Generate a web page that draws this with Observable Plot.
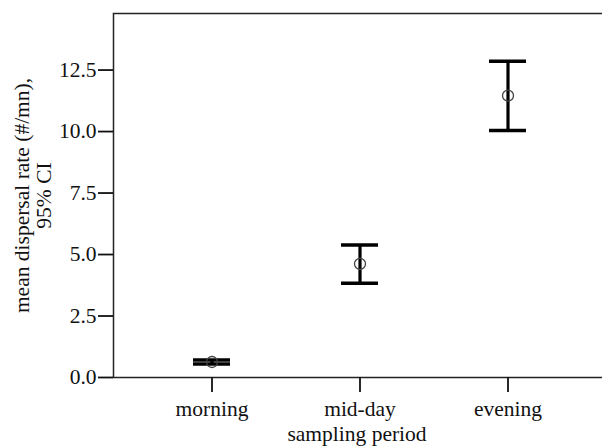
<!DOCTYPE html>
<html><head><meta charset="utf-8">
<script src="https://cdn.jsdelivr.net/npm/d3@7"></script>
<script src="https://cdn.jsdelivr.net/npm/@observablehq/plot@0.6"></script>
<style>body{margin:0;background:#fff;overflow:hidden;} svg{font-family:"Liberation Serif",serif;}</style>
</head><body><div id="chart"></div>
<script>
const periods = ["morning", "mid-day", "evening"];
const means = [0.63, 4.62, 11.46];
const lower = [0.55, 3.83, 10.04];
const upper = [0.71, 5.39, 12.86];
const yTicks = [0, 2.5, 5, 7.5, 10, 12.5];
const yLabel = "mean dispersal rate (#/mn),\n95% CI";
const xLabel = "sampling period";

const data = periods.map((p, i) => ({period: p, mean: means[i], lo: lower[i], hi: upper[i]}));
const FS = 21.5;

const chart = Plot.plot({
  width: 602, height: 447,
  marginLeft: 113, marginRight: -10, marginTop: 13, marginBottom: 70,
  style: {fontFamily: "Liberation Serif, serif", fontSize: FS + "px", color: "#111", background: "#fff"},
  x: {type: "band", domain: periods, range: [192.5, 525.5], paddingInner: 0.75, paddingOuter: 0, label: null},
  y: {domain: [0, 14.8], label: null},
  marks: [
    Plot.frame({stroke: "#222", strokeWidth: 1.5}),
    Plot.axisY({ticks: yTicks, tickFormat: d => d.toFixed(1), tickSize: 15, tickPadding: 2, strokeWidth: 1.8, label: null, fontSize: FS}),
    Plot.axisX({tickSize: 15, tickPadding: 8, strokeWidth: 1.8, label: null, fontSize: FS}),
    Plot.ruleX(data, {x: "period", y1: "lo", y2: "hi", stroke: "#000", strokeWidth: 3.2}),
    Plot.tickY(data, {x: "period", y: "lo", stroke: "#000", strokeWidth: 3.5}),
    Plot.tickY(data, {x: "period", y: "hi", stroke: "#000", strokeWidth: 3.5}),
    Plot.dot(data, {x: "period", y: "mean", r: 5.5, stroke: "#444", strokeWidth: 1.3, fill: "none"}),
    Plot.text([yLabel], {frameAnchor: "left", textAnchor: "middle", lineAnchor: "middle", dx: -80.5, rotate: -90, fontSize: FS, lineHeight: 1.0, fill: "#111"}),
    Plot.text([xLabel], {frameAnchor: "bottom", lineAnchor: "middle", dx: -6, dy: 57, fontSize: FS, fill: "#111"})
  ]
});
document.getElementById("chart").appendChild(chart);
</script>
</body></html>
